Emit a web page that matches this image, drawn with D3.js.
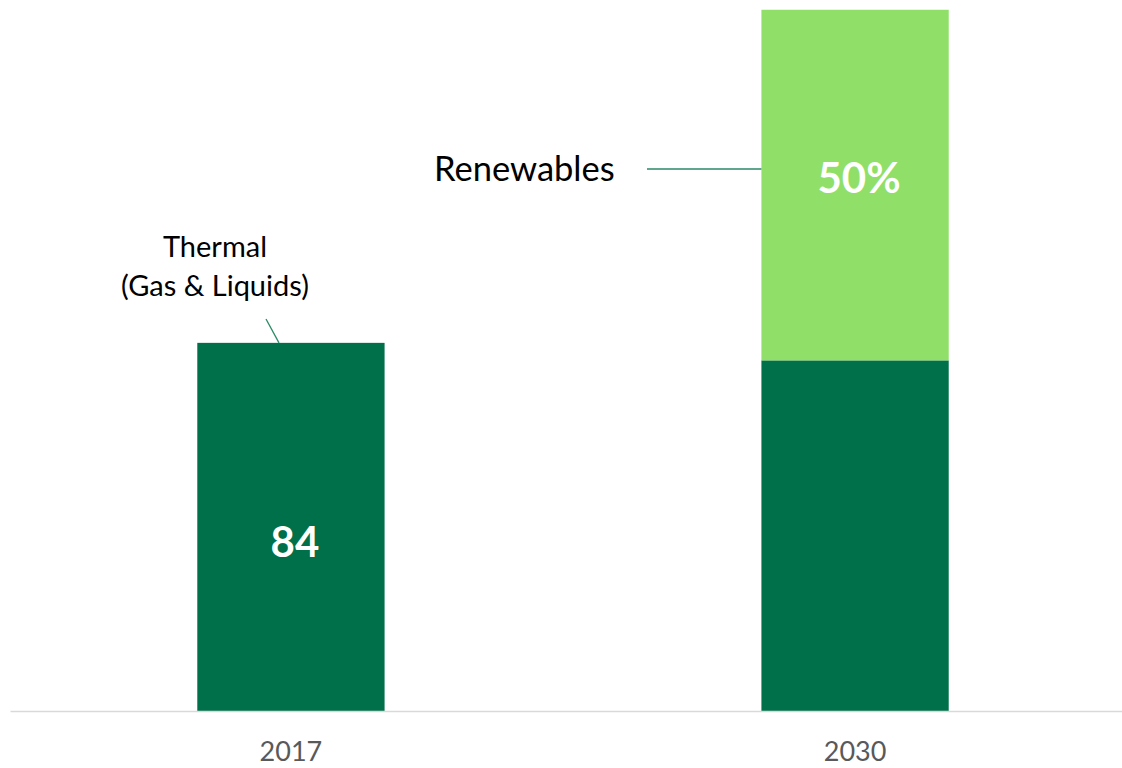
<!DOCTYPE html>
<html>
<head>
<meta charset="utf-8">
<script src="https://cdn.jsdelivr.net/npm/d3@7"></script>
<style>
  html, body { margin: 0; padding: 0; background: #fff; }
  svg { display: block; font-family: Lato, "Open Sans", sans-serif; }
</style>
</head>
<body>
<svg id="chart" width="1122" height="768"></svg>
<script>
// Chart data
const years = ["2017", "2030"];
const thermal = [84, 80];
const renewables = [0, 80];
const valueLabels = ["84", "50%"];

const darkGreen = "#00704a";
const lightGreen = "#8fdf68";

const svg = d3.select("#chart");

// Scales
const x = d3.scaleBand()
  .domain(years)
  .range([10, 1136])
  .paddingInner(0.668)
  .paddingOuter(0.332);

const y = d3.scaleLinear()
  .domain([0, 162])
  .range([711, 1]);

// Stack the two series
const rows = years.map((yr, i) => ({ year: yr, thermal: thermal[i], renewables: renewables[i] }));
const stacked = d3.stack().keys(["thermal", "renewables"])(rows);
const colors = { thermal: darkGreen, renewables: lightGreen };

svg.append("g")
  .selectAll("g")
  .data(stacked)
  .join("g")
  .attr("fill", (d) => colors[d.key])
  .selectAll("rect")
  .data((d) => d.filter((s) => s[1] > s[0]))
  .join("rect")
  .attr("x", (d) => x(d.data.year))
  .attr("y", (d) => y(d[1]))
  .attr("width", x.bandwidth())
  .attr("height", (d) => y(d[0]) - y(d[1]));

// Axis
const axis = svg.append("g")
  .attr("transform", `translate(0,${y(0)})`)
  .call(d3.axisBottom(x).tickSize(0).tickPadding(31));
axis.select(".domain").attr("stroke", "#d9d9d9").attr("stroke-width", 1.5);
axis.selectAll("text")
  .attr("fill", "#595959")
  .style("font-family", "Lato, sans-serif")
  .style("font-size", "27px");

// Value labels inside bars
svg.append("text")
  .attr("x", x("2017") + x.bandwidth() / 2 + 4)
  .attr("y", y(thermal[0] / 2) + 30)
  .attr("text-anchor", "middle")
  .attr("fill", "#fff")
  .attr("font-weight", "bold")
  .attr("font-size", 42)
  .text(valueLabels[0]);

svg.append("text")
  .attr("x", x("2030") + x.bandwidth() / 2 + 4)
  .attr("y", y(thermal[1] + renewables[1]) + 183)
  .attr("text-anchor", "middle")
  .attr("fill", "#fff")
  .attr("font-weight", "bold")
  .attr("font-size", 42)
  .text(valueLabels[1]);

// Renewables callout
svg.append("text")
  .attr("x", 434)
  .attr("y", 181)
  .attr("fill", "#000")
  .attr("font-size", 34.5)
  .text("Renewables");
svg.append("line")
  .attr("x1", 647).attr("y1", 169)
  .attr("x2", x("2030")).attr("y2", 169)
  .attr("stroke", "#2a8a66")
  .attr("stroke-width", 1.3);

// Thermal callout
const thermalLabel = svg.append("text")
  .attr("text-anchor", "middle")
  .attr("fill", "#000")
  .attr("font-size", 29);
thermalLabel.append("tspan").attr("x", 215).attr("y", 257).text("Thermal");
thermalLabel.append("tspan").attr("x", 215).attr("y", 296).text("(Gas & Liquids)");
svg.append("line")
  .attr("x1", 266).attr("y1", 319)
  .attr("x2", 279).attr("y2", y(thermal[0]))
  .attr("stroke", "#2a8a66")
  .attr("stroke-width", 1.3);
</script>
</body>
</html>
